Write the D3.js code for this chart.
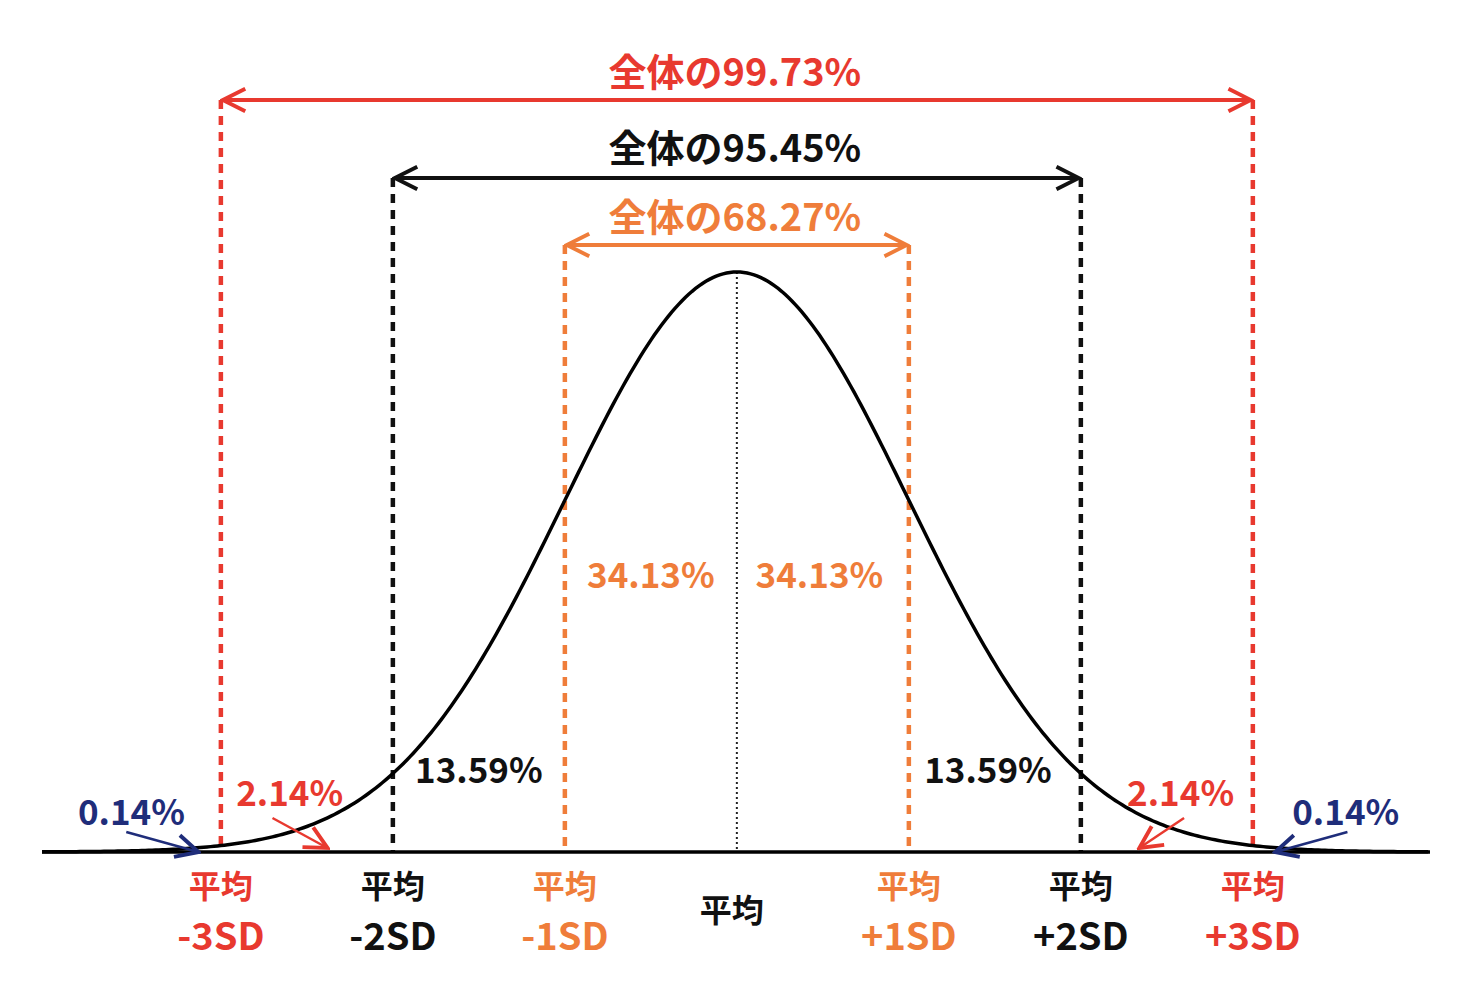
<!DOCTYPE html>
<html><head><meta charset="utf-8">
<script src="https://cdn.jsdelivr.net/npm/d3@7"></script>
<style>body{margin:0;background:#fff}text{font-family:"Noto Sans CJK JP","Noto Sans",sans-serif;font-weight:700}</style>
</head><body><svg id="c" width="1478" height="996"></svg>
<script>
const sdMarks=[-3,-2,-1,1,2,3];
const sdTop=["平均","平均","平均","平均","平均","平均"];
const sdBottom=["-3SD","-2SD","-1SD","+1SD","+2SD","+3SD"];
const spanLevels=[3,2,1];
const spanLabels=["全体の99.73%","全体の95.45%","全体の68.27%"];
const regionLabels=["34.13%","34.13%","13.59%","13.59%","2.14%","2.14%","0.14%","0.14%"];
const regionZ=[-0.5,0.48,-1.5,1.46,-2.6,2.58,-3.52,3.54];

const RED="#e8392f",ORANGE="#ef7d3a",BLACK="#111",NAVY="#1f2d7a";
const colorFor={1:ORANGE,2:BLACK,3:RED};
const svg=d3.select("#c");
const x=d3.scaleLinear().domain([-4.04,4.03]).range([42,1430]);
const pdf=z=>Math.exp(-z*z/2);
const y=d3.scaleLinear().domain([0,1]).range([852,272]);
const defs=svg.append("defs");
[["r",RED],["k",BLACK],["o",ORANGE],["n",NAVY]].forEach(([id,c])=>{
 defs.append("marker").attr("id","m"+id).attr("viewBox","0 0 10 10").attr("refX",9).attr("refY",5)
 .attr("orient","auto-start-reverse").attr("markerUnits","userSpaceOnUse")
 .attr("markerWidth",28).attr("markerHeight",28)
 .append("path").attr("d","M1,1 L9,5 L1,9").attr("fill","none").attr("stroke",c).attr("stroke-width",1.4);
});
const mid={1:"o",2:"k",3:"r"};
const spanY={3:100,2:178,1:245};
const labelY={3:72,2:148,1:217};
sdMarks.forEach(s=>{
 const a=Math.abs(s);
 svg.append("line").attr("x1",x(s)).attr("x2",x(s)).attr("y1",spanY[a]).attr("y2",852)
 .attr("stroke",colorFor[a]).attr("stroke-width",4.5).attr("stroke-dasharray","9,7");
});
svg.append("line").attr("x1",x(0)).attr("x2",x(0)).attr("y1",y(1)).attr("y2",852)
 .attr("stroke","#222").attr("stroke-width",2).attr("stroke-dasharray","2,3");
const pts=d3.range(-4.04,4.031,0.02).map(z=>[z,pdf(z)]);
svg.append("path").attr("d",d3.line().x(d=>x(d[0])).y(d=>y(d[1]))(pts))
 .attr("fill","none").attr("stroke","#000").attr("stroke-width",3.5);
svg.append("line").attr("x1",42).attr("x2",1430).attr("y1",852).attr("y2",852).attr("stroke","#000").attr("stroke-width",3.5);
spanLevels.forEach((s,i)=>{
 svg.append("line").attr("x1",x(-s)+2).attr("x2",x(s)-2).attr("y1",spanY[s]).attr("y2",spanY[s])
 .attr("stroke",colorFor[s]).attr("stroke-width",4)
 .attr("marker-start","url(#m"+mid[s]+")").attr("marker-end","url(#m"+mid[s]+")");
 svg.append("text").attr("x",x(0)-2).attr("y",labelY[s]+14).attr("text-anchor","middle")
 .attr("font-size",38).attr("fill",colorFor[s]).text(spanLabels[i]);
});
sdMarks.forEach((s,i)=>{
 const c=colorFor[Math.abs(s)];
 svg.append("text").attr("x",x(s)).attr("y",898).attr("text-anchor","middle").attr("font-size",32).attr("fill",c).text(sdTop[i]);
 svg.append("text").attr("x",x(s)).attr("y",950).attr("text-anchor","middle").attr("font-size",38).attr("fill",c).text(sdBottom[i]);
});
svg.append("text").attr("x",x(0)-5).attr("y",922).attr("text-anchor","middle").attr("font-size",32).attr("fill",BLACK).text("平均");
const regColor=[ORANGE,ORANGE,BLACK,BLACK,RED,RED,NAVY,NAVY];
const regY=[588,588,783,783,806,806,825,825];
regionLabels.forEach((t,i)=>{
 svg.append("text").attr("x",x(regionZ[i])).attr("y",regY[i]).attr("text-anchor","middle")
 .attr("font-size",35).attr("fill",regColor[i]).text(t);
});
const arrows=[[-2.7,818,-2.38,848,"r",RED],[2.6,818,2.34,848,"r",RED],[-3.55,832,-3.13,852,"n",NAVY],[3.55,832,3.13,852,"n",NAVY]];
arrows.forEach(a=>{
 svg.append("line").attr("x1",x(a[0])).attr("y1",a[1]).attr("x2",x(a[2])).attr("y2",a[3])
 .attr("stroke",a[5]).attr("stroke-width",2.5).attr("marker-end","url(#m"+a[4]+")");
});
</script></body></html>
